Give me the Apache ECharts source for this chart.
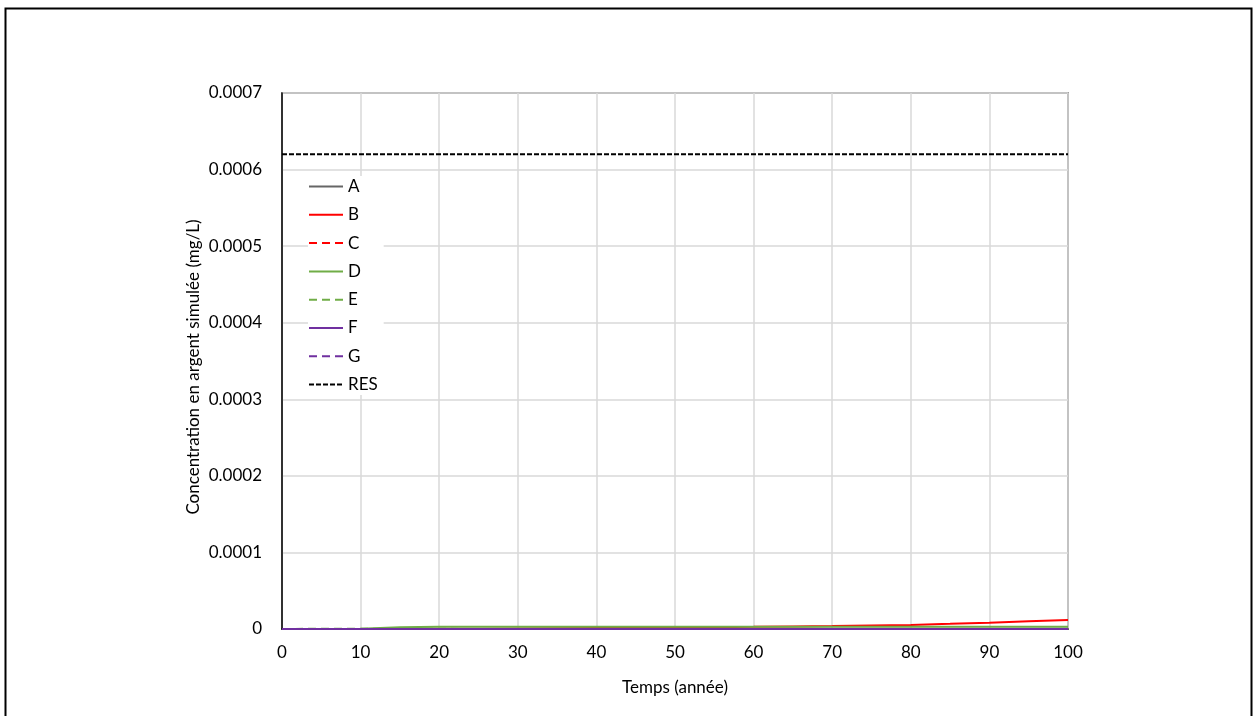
<!DOCTYPE html>
<html>
<head>
<meta charset="utf-8">
<script src="https://cdn.jsdelivr.net/npm/echarts@6/dist/echarts.min.js"></script>
<style>
html,body{margin:0;padding:0;background:#fff;}
#chart{width:1253px;height:716px;}
</style>
</head>
<body>
<div id="chart"></div>
<script>
// Data
var years = [0,5,10,15,20,25,30,35,40,45,50,55,60,65,70,75,80,85,90,95,100];
var seriesNames = ['A','B','C','D','E','F','G','RES'];
var valuesA = [0,0,0.1e-6,0.1e-6,0.1e-6,0.1e-6,0.1e-6,0.1e-6,0.1e-6,0.1e-6,0.1e-6,0.1e-6,0.1e-6,0.2e-6,0.2e-6,0.2e-6,0.2e-6,0.2e-6,0.3e-6,0.3e-6,0.3e-6];
var valuesB = [0,0,0,0,0.2e-6,0.4e-6,0.7e-6,1.0e-6,1.3e-6,1.6e-6,2.0e-6,2.4e-6,2.8e-6,3.4e-6,3.9e-6,4.6e-6,5.3e-6,6.7e-6,8.3e-6,10.0e-6,11.8e-6];
var valuesC = [0,0,0,0,0,0,0,0,0,0,0,0,0,0,0,0,0,0,0,0,0];
var valuesD = [0,0,0.2e-6,2.4e-6,3.0e-6,3.0e-6,3.0e-6,3.0e-6,3.0e-6,3.0e-6,3.0e-6,3.0e-6,3.0e-6,3.0e-6,3.1e-6,3.1e-6,3.1e-6,3.1e-6,3.1e-6,3.1e-6,3.1e-6];
var valuesE = [0,0.4e-6,0.4e-6,0.3e-6,0.2e-6,0.1e-6,0.1e-6,0.1e-6,0.1e-6,0.1e-6,0.1e-6,0.1e-6,0.1e-6,0.1e-6,0.1e-6,0.1e-6,0.1e-6,0.1e-6,0.1e-6,0.1e-6,0.1e-6];
var valuesF = [0,0,0,0,0,0,0,0,0,0,0,0,0,0,0,0,0,0,0,0,0];
var valuesG = [0,0,0,0,0,0,0,0,0,0,0,0,0,0,0,0,0,0,0,0,0];
var valuesRES = [0.00062,0.00062,0.00062,0.00062,0.00062,0.00062,0.00062,0.00062,0.00062,0.00062,0.00062,0.00062,0.00062,0.00062,0.00062,0.00062,0.00062,0.00062,0.00062,0.00062,0.00062];
var xTickLabels = ['0','10','20','30','40','50','60','70','80','90','100'];
var yTickLabels = ['0','0.0001','0.0002','0.0003','0.0004','0.0005','0.0006','0.0007'];
var xTitle = 'Temps (année)';
var yTitle = 'Concentration en argent simulée (mg/L)';

var FONT = 'Lato';
function pairs(vals){ return years.map(function(y,i){ return [y, vals[i]]; }); }
var styles = {
  A:{color:'#666666', type:'solid'},
  B:{color:'#ff0000', type:'solid'},
  C:{color:'#ff0000', type:[8,5]},
  D:{color:'#70ad47', type:'solid'},
  E:{color:'#70ad47', type:[8,5]},
  F:{color:'#7030a0', type:'solid'},
  G:{color:'#7030a0', type:[8,5]},
  RES:{color:'#000000', type:[5,2]}
};
var allVals = {A:valuesA,B:valuesB,C:valuesC,D:valuesD,E:valuesE,F:valuesF,G:valuesG,RES:valuesRES};
var series = seriesNames.map(function(n){
  return {
    name:n, type:'line', data:pairs(allVals[n]), showSymbol:false, symbol:'none',
    smooth:false, animation:false,
    lineStyle:{color:styles[n].color, width:2, type:styles[n].type},
    itemStyle:{color:styles[n].color}
  };
});

var chart = echarts.init(document.getElementById('chart'), null, {renderer:'canvas'});
chart.setOption({
  backgroundColor:'#ffffff',
  animation:false,
  grid:{left:282, top:93, right:185, bottom:87, show:true, borderColor:'#595959', borderWidth:1.5, backgroundColor:'transparent'},
  legend:{
    orient:'vertical', left:308, top:176, itemWidth:34, itemHeight:14, itemGap:11.3,
    itemStyle:{opacity:0, borderWidth:0},
    data:seriesNames, textStyle:{fontFamily:FONT, fontSize:17, color:'#000'},
    backgroundColor:'#ffffff', padding:[2,6,2,0]
  },
  xAxis:{
    type:'value', min:0, max:100, interval:10,
    name:xTitle, nameLocation:'middle', nameGap:50,
    nameTextStyle:{fontFamily:FONT, fontSize:17, color:'#000'},
    axisLine:{show:true, onZero:false, lineStyle:{color:'#000', width:1.5}},
    axisTick:{show:false},
    axisLabel:{margin:15, fontFamily:FONT, fontSize:17, color:'#000',
      formatter:function(v){ var i=Math.round(v/10); return xTickLabels[i]!==undefined?xTickLabels[i]:''; }},
    splitLine:{show:true, lineStyle:{color:'#d9d9d9', width:1.5}}
  },
  yAxis:{
    type:'value', min:0, max:0.0007, interval:0.0001,
    axisLine:{show:true, lineStyle:{color:'#000', width:1.5}},
    axisTick:{show:false},
    axisLabel:{margin:20, fontFamily:FONT, fontSize:17, color:'#000',
      formatter:function(v){ var i=Math.round(v/0.0001); return yTickLabels[i]!==undefined?yTickLabels[i]:''; }},
    splitLine:{show:true, lineStyle:{color:'#d9d9d9', width:1.5}}
  },
  graphic:[{
    type:'rect', left:3, top:6, silent:true, z:-1,
    shape:{x:0, y:0, width:1246, height:740},
    style:{fill:'none', stroke:'#000', lineWidth:2}
  },{
    type:'text', x:194, y:367, rotation:Math.PI/2, silent:true,
    style:{text:yTitle, fontFamily:FONT, fontSize:17, fill:'#000', align:'center', verticalAlign:'middle'}
  }],
  series:series
});
</script>
</body>
</html>
